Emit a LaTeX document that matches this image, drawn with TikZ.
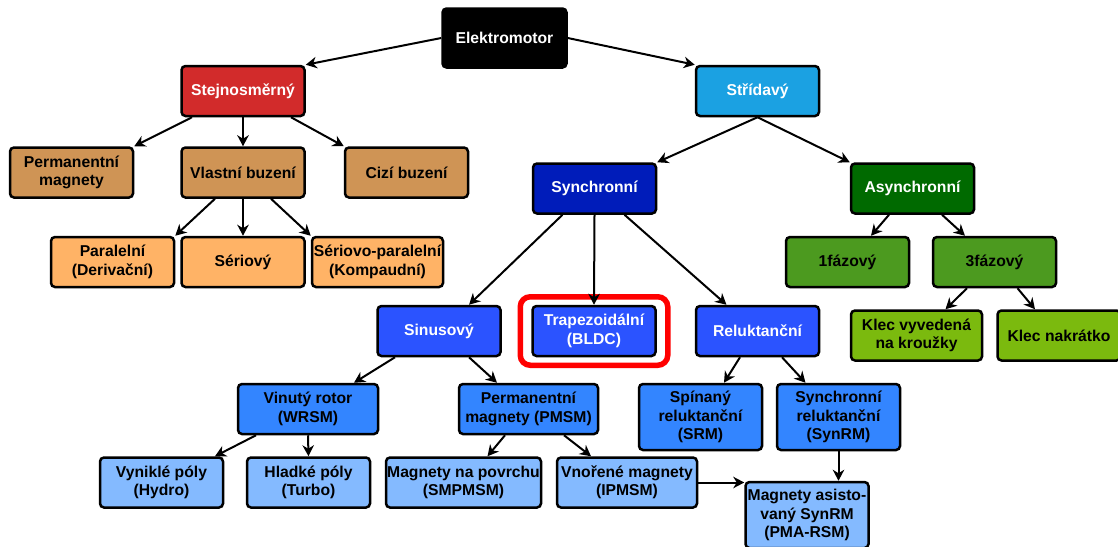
\documentclass[tikz,border=0pt]{standalone}
\usepackage{fontspec}
\setmainfont{Liberation Sans}
\usetikzlibrary{arrows.meta}

\definecolor{dcred}{HTML}{D22B2B}
\definecolor{dctan}{HTML}{CF9455}
\definecolor{dcorange}{HTML}{FFB366}
\definecolor{acsky}{HTML}{1BA1E2}
\definecolor{syncblue}{HTML}{001CBA}
\definecolor{asyncgreen}{HTML}{006A00}
\definecolor{fazgreen}{HTML}{4C9A1F}
\definecolor{klecgreen}{HTML}{7BBA0E}
\definecolor{midblue}{HTML}{2B53FF}
\definecolor{rotorblue}{HTML}{3385FF}
\definecolor{lightblue}{HTML}{84BAFF}

\begin{document}
\begin{tikzpicture}[x=1pt, y=-1pt,
		box/.style={draw=black, line width=2.5pt, rounded corners=4pt,
				minimum width=123pt, minimum height=50pt, inner xsep=1pt, inner ysep=2pt,
				align=center, font=\fontsize{15.7}{18.5}\selectfont\bfseries},
		arrow/.style={line width=2pt, -{Stealth[length=11pt,width=11.5pt,inset=3.5pt]}}]
		\useasboundingbox (0,0) rectangle (1118,546);

		% Root
		\node[box, fill=black, text=white, minimum width=124pt, minimum height=59pt] (elek) at (504.5,38) {Elektromotor};

		% DC branch
		\node[box, fill=dcred, text=white] (stej) at (243,91) {Stejnosměrný};
		\node[box, fill=dctan] (perm) at (71.5,172.5) {Permanentní\\magnety};
		\node[box, fill=dctan] (vlast) at (243,172.5) {Vlastní buzení};
		\node[box, fill=dctan] (cizi) at (406.5,172.5) {Cizí buzení};
		\node[box, fill=dcorange] (paral) at (112.5,262) {Paralelní\\(Derivační)};
		\node[box, fill=dcorange] (serio) at (243,262) {Sériový};
		\node[box, fill=dcorange, minimum width=131pt] (serpar) at (377.5,262) {Sériovo-paralelní\\(Kompaudní)};

		% AC branch
		\node[box, fill=acsky, text=white] (strid) at (757.5,91) {Střídavý};
		\node[box, fill=syncblue, text=white] (sync) at (594.5,188.5) {Synchronní};
		\node[box, fill=asyncgreen, text=white] (async) at (912.5,188.5) {Asynchronní};
		\node[box, fill=fazgreen] (faz1) at (847.5,262) {1fázový};
		\node[box, fill=fazgreen] (faz3) at (994.5,262) {3fázový};
		\node[box, fill=klecgreen, minimum width=131pt] (klecv) at (916.5,335.5) {Klec vyvedená\\na kroužky};
		\node[box, fill=klecgreen] (klecn) at (1059,335.5) {Klec nakrátko};

		% Synchronous motors
		\node[box, fill=midblue, text=white] (sinus) at (439,331) {Sinusový};
		\node[box, fill=midblue, text=white] (trap) at (594,331) {Trapezoidální\\(BLDC)};
		\node[box, fill=midblue, text=white] (relukt) at (757.5,331) {Reluktanční};
		\node[box, fill=rotorblue, minimum width=140pt] (vinut) at (308,409) {Vinutý rotor\\(WRSM)};
		\node[box, fill=rotorblue, minimum width=139pt] (pmsm) at (528.5,409) {Permanentní\\magnety (PMSM)};
		\node[box, fill=rotorblue, minimum height=66pt] (spin) at (700.5,417) {Spínaný\\reluktanční\\(SRM)};
		\node[box, fill=rotorblue, minimum height=66pt] (synrel) at (838.5,417) {Synchronní\\reluktanční\\(SynRM)};
		\node[box, fill=lightblue] (vynik) at (161.5,482.5) {Vyniklé póly\\(Hydro)};
		\node[box, fill=lightblue] (hlad) at (308.5,482.5) {Hladké póly\\(Turbo)};
		\node[box, fill=lightblue, minimum width=155pt] (povrch) at (463.5,482.5) {Magnety na povrchu\\(SMPMSM)};
		\node[box, fill=lightblue, minimum width=140pt] (vnor) at (627,482.5) {Vnořené magnety\\(IPMSM)};
		\node[box, fill=lightblue, minimum height=66pt] (pma) at (807,515) {Magnety asisto-\\vaný SynRM\\(PMA-RSM)};

		% Highlight frame
		\draw[red, line width=5.5pt, rounded corners=10pt]
			([xshift=-11pt,yshift=8pt]trap.north west) rectangle ([xshift=11pt,yshift=-8pt]trap.south east);

		% Arrows
		\draw[arrow] (elek.west) -- (stej.north east);
		\draw[arrow] (elek.east) -- (strid.north west);
		\draw[arrow] ([xshift=-51pt]stej.south) -- (perm.north east);
		\draw[arrow] (stej.south) -- (vlast.north);
		\draw[arrow] ([xshift=48pt]stej.south) -- (cizi.north west);
		\draw[arrow] ([xshift=-28pt]vlast.south) -- (paral.north east);
		\draw[arrow] (vlast.south) -- (serio.north);
		\draw[arrow] ([xshift=28pt]vlast.south) -- (serpar.north west);
		\draw[arrow] (strid.south) -- (sync.north east);
		\draw[arrow] (strid.south) -- (async.north west);
		\draw[arrow] ([xshift=-32pt]sync.south) -- ([xshift=30pt]sinus.north);
		\draw[arrow] (sync.south) -- (trap.north);
		\draw[arrow] ([xshift=30pt]sync.south) -- ([xshift=-31pt]relukt.north);
		\draw[arrow] ([xshift=-23.5pt]async.south) -- ([xshift=23.5pt]faz1.north);
		\draw[arrow] ([xshift=29.5pt]async.south) -- ([xshift=-29.5pt]faz3.north);
		\draw[arrow] ([xshift=-27.5pt]faz3.south) -- ([xshift=29pt]klecv.north);
		\draw[arrow] ([xshift=23pt]faz3.south) -- ([xshift=-24pt]klecn.north);
		\draw[arrow] ([xshift=-44pt]sinus.south) -- ([xshift=46pt]vinut.north);
		\draw[arrow] ([xshift=30pt]sinus.south) -- ([xshift=-31.5pt]pmsm.north);
		\draw[arrow] ([xshift=-17.5pt]relukt.south) -- ([xshift=23.5pt]spin.north);
		\draw[arrow] ([xshift=24.5pt]relukt.south) -- ([xshift=-33pt]synrel.north);
		\draw[arrow] ([xshift=-52pt]vinut.south) -- ([xshift=53.5pt]vynik.north);
		\draw[arrow] (vinut.south) -- (hlad.north);
		\draw[arrow] ([xshift=-23.5pt]pmsm.south) -- ([xshift=24pt]povrch.north);
		\draw[arrow] ([xshift=35.5pt]pmsm.south) -- ([xshift=-36pt]vnor.north);
		\draw[arrow] (vnor.east) -- (vnor.east -| pma.west);
		\draw[arrow] (synrel.south) -- (synrel.south |- pma.north);
	\end{tikzpicture}
\end{document}
